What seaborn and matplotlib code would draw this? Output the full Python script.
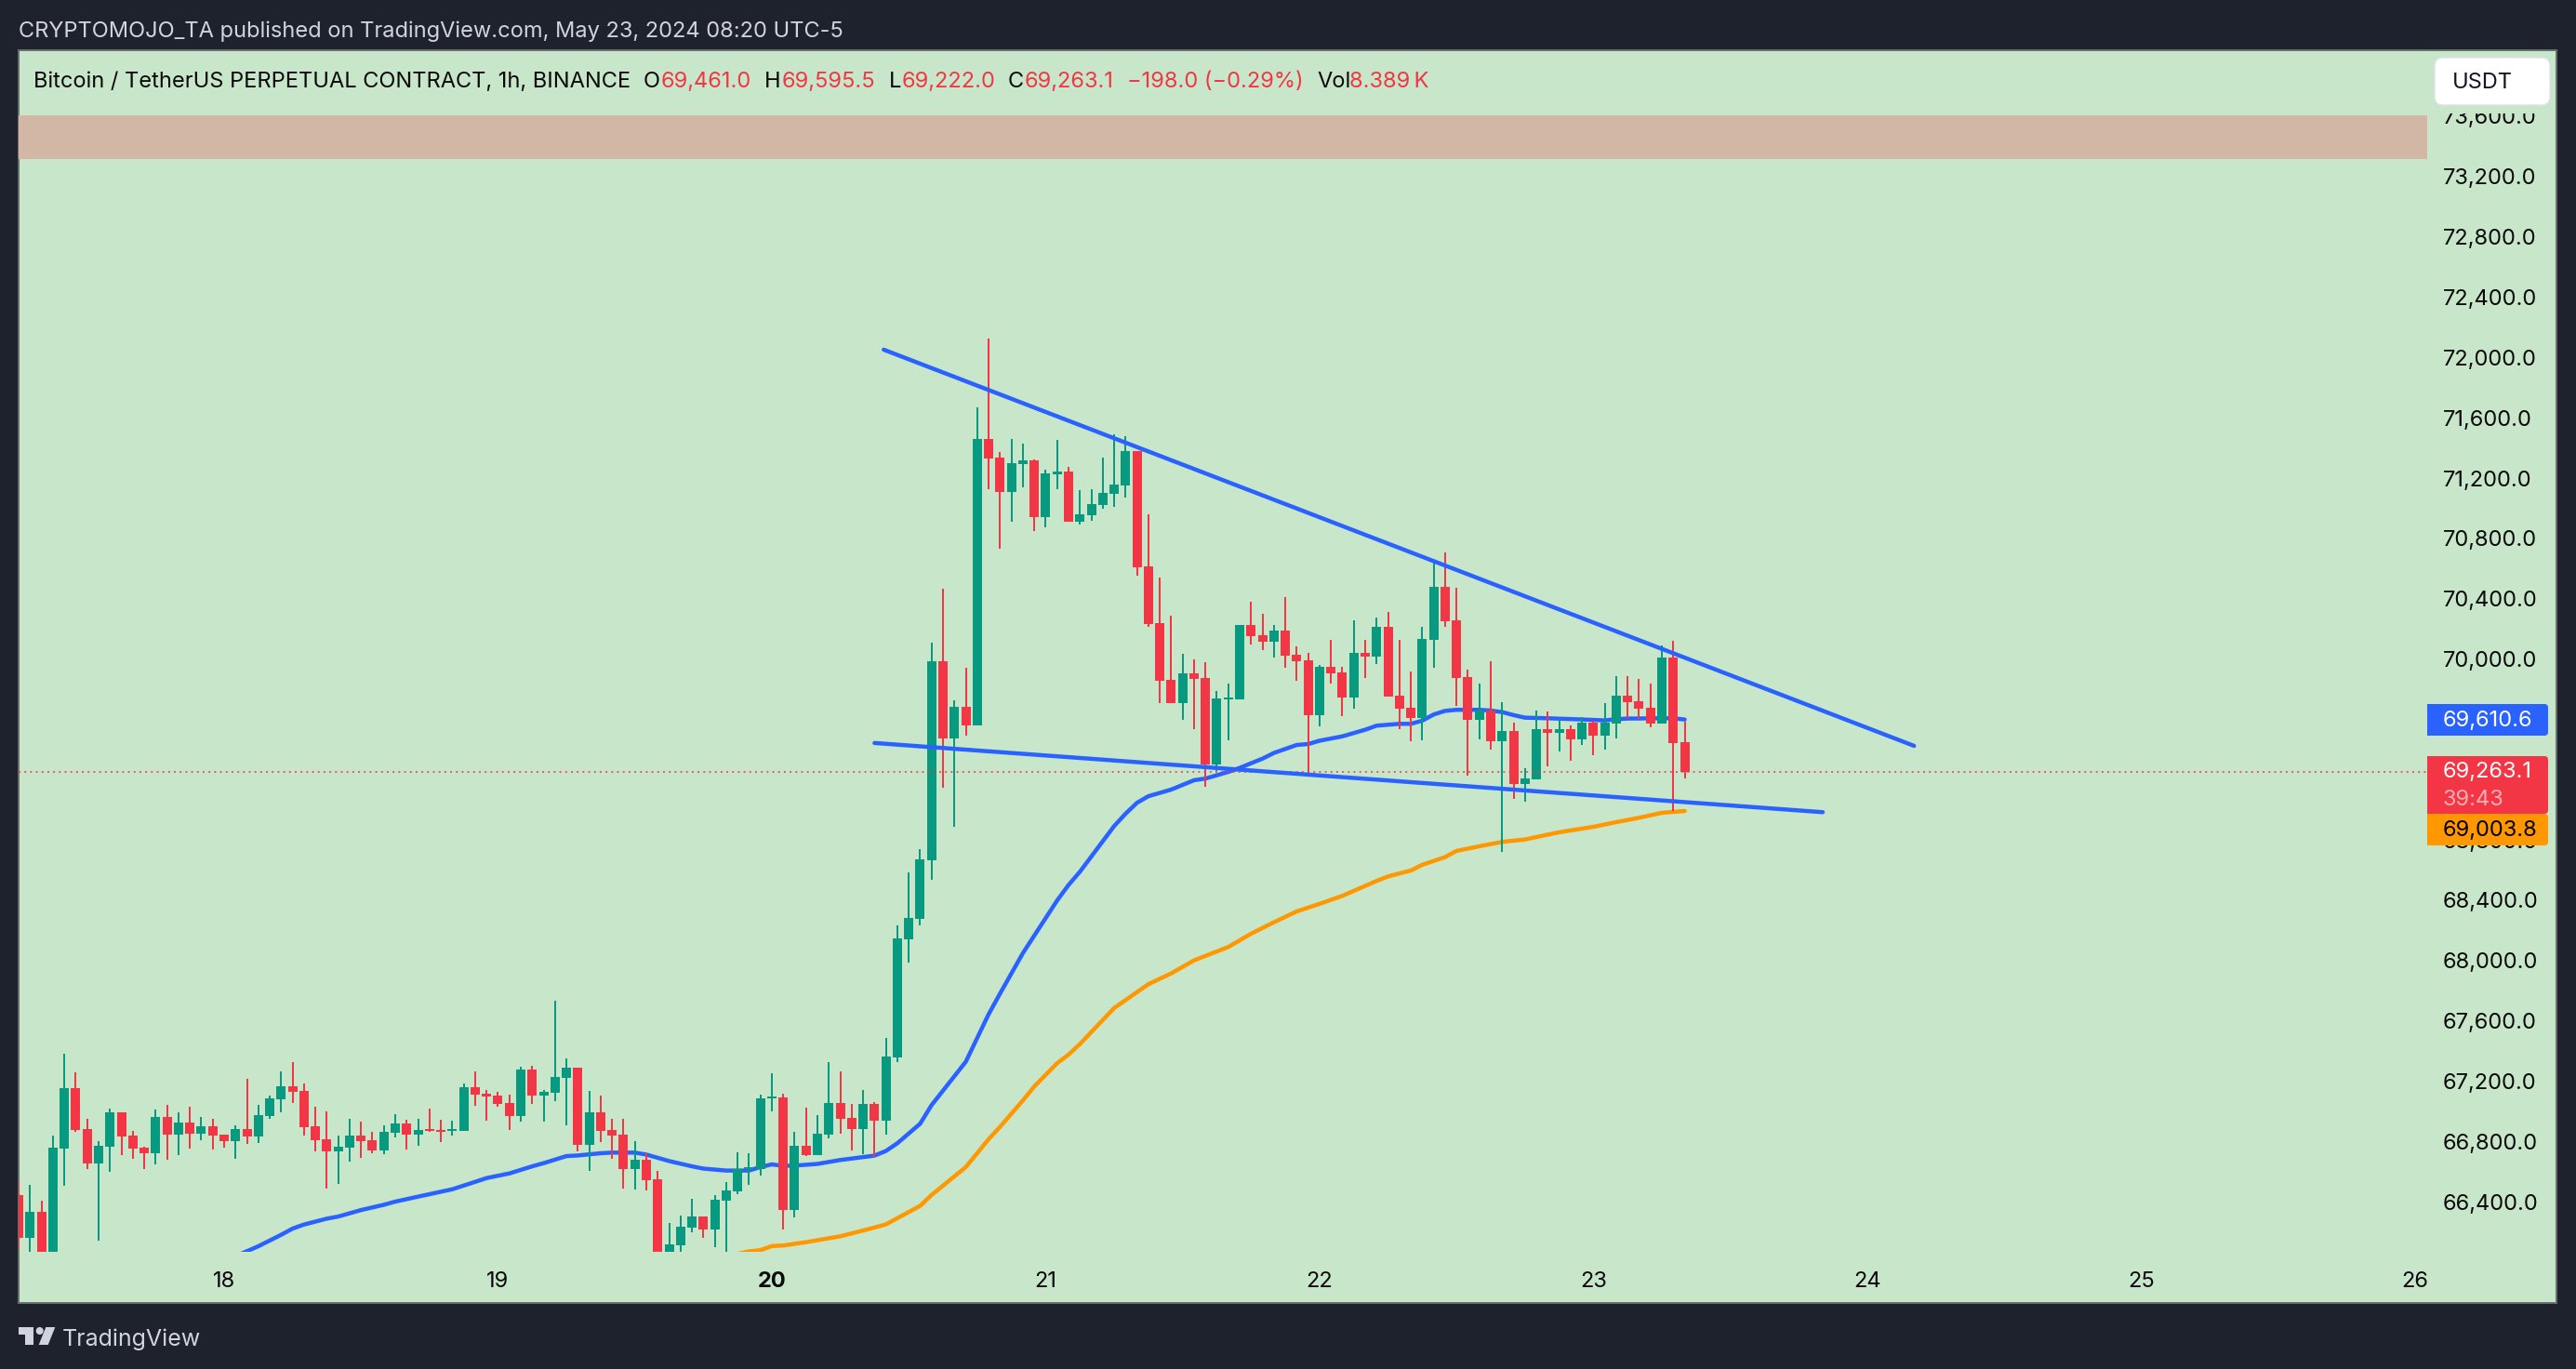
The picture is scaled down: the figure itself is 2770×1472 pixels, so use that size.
# -*- coding: utf-8 -*-
import numpy as np
import matplotlib
matplotlib.use("Agg")
import matplotlib.pyplot as plt
from matplotlib.patches import FancyBboxPatch, Rectangle, Polygon, Circle
from matplotlib.transforms import ScaledTranslation
import seaborn as sns

# candles, one per hour, first one is May 17 06:00
open_px = [66456,66172,66345,66000,66764,67165,66894,66666,66777,67005,66851,66771,66734,66974,66857,66937,66863,66913,
  66857,66814,66894,66845,66980,67091,67178,67147,66913,66826,66746,66771,66851,66820,66752,66869,66931,66857,66894,66888,66882,66882,67172,67128,
  67116,67067,66980,67289,67116,67135,67233,67301,66789,67005,66888,66857,66629,66691,66562,66020,66124,66241,66315,66229,66420,66482,66630,66630,
  67098,67105,66358,66784,66722,66858,67068,66969,66895,67061,66950,67370,68153,68289,68677,69997,69486,69695,69572,71471,71347,71120,71306,71330,
  70953,71237,71255,70922,70966,71035,71107,71162,71391,70627,70250,69873,69719,69918,69887,69312,69744,69744,70237,70171,70127,70202,70041,70003,
  69640,69959,69924,69757,70052,70028,70226,69769,69689,69621,70139,70490,70268,69892,69608,69670,69467,69534,69183,69214,69547,69522,69547,69479,
  69590,69504,69584,69769,69732,69689,69584,70022,69461]
high_px = [66542,66524,66419,66851,67394,67270,66962,66814,67030,67005,66882,66777,67024,67054,67005,67042,66974,66962,
  66857,66919,67227,67054,67116,67276,67338,67196,67042,67011,66851,66962,66943,66876,66919,66993,66956,66962,67030,66956,66950,67196,67276,67153,
  67141,67122,67307,67313,67153,67745,67363,67301,67147,67116,66962,66962,66814,66734,66617,66272,66321,66432,66315,66457,66543,66741,66735,67123,
  67265,67129,66876,67037,66987,67339,67277,67061,67154,67074,67499,68246,68597,68751,70120,70479,69739,69955,71682,72138,71385,71471,71440,71336,
  71268,71466,71286,71131,71138,71347,71502,71491,71391,70973,70552,70299,70048,70010,69990,69801,69849,70237,70391,70312,70237,70422,70096,70052,
  69973,70140,69959,70268,70140,70288,70324,70139,69929,70225,70651,70719,70484,69941,69849,69997,69726,69590,69288,69670,69664,69615,69571,69627,
  69602,69719,69898,69898,69880,69849,70102,70133,69595.5]
low_px = [66096,66060,65950,65950,66518,66876,66629,66154,66610,66721,66697,66629,66660,66691,66721,66764,66820,66758,
  66771,66697,66795,66802,66962,67005,67067,66851,66746,66499,66530,66678,66703,66734,66727,66839,66758,66783,66876,66808,66851,66882,67048,66950,
  67042,66888,66943,67061,66943,67079,66919,66746,66616,66808,66697,66499,66493,66487,65950,65980,66040,66210,66173,66112,66000,66463,66525,66586,
  67012,66229,66309,66716,66722,66833,66864,66753,66728,66710,66858,67339,67999,68246,68548,69160,68902,69503,69572,71138,70744,70922,71151,70861,
  70883,71138,70922,70905,70929,71008,71021,71083,70565,70226,69719,69719,69609,69547,69164,69272,69473,69744,70109,70072,70021,69955,69867,69250,
  69565,69849,69633,69682,69887,69979,69763,69547,69467,69473,69954,70225,69701,69238,69479,69411,68733,69084,69066,69214,69300,69399,69337,69442,
  69374,69411,69485,69621,69612,69559,69584,69004,69222]
close_px = [66172,66345,66000,66771,67165,66888,66666,66783,67005,66845,66764,66734,66974,66857,66937,66863,66913,66851,
  66814,66894,66845,66987,67098,67178,67141,66906,66820,66746,66777,66851,66814,66752,66876,66931,66857,66888,66882,66876,66894,67172,67122,67110,
  67061,66980,67289,67116,67141,67239,67301,66789,67005,66882,66851,66629,66691,66555,66000,66130,66247,66315,66229,66426,66488,66630,66642,67098,
  67111,66358,66784,66722,66864,67068,66963,66895,67061,66950,67376,68159,68295,68684,69997,69486,69695,69572,71471,71343,71120,71312,71332,70953,
  71244,71255,70922,70973,71039,71114,71169,71391,70620,70244,69867,69719,69918,69880,69312,69750,69757,70237,70164,70127,70202,70034,69997,69640,
  69959,69918,69757,70052,70028,70226,69763,69682,69621,70145,70490,70262,69886,69608,69670,69467,69534,69183,69220,69547,69522,69547,69479,69590,
  69504,69590,69769,69726,69682,69584,70022,69454,69263.1]
first_hour = -18  # hours counted from May 18 00:00

# moving averages, read at these hours
blue_hours = [1,3,5,6,7,9,10,12,14,15,17,20,22,23,25,27,28,30,31,33,34,36,37,39,41,42,44,46,47,48,49,50,52,54,57,58,59,61,62,65,67,68,70,73,74,75,78,
  79,80,81,83,85,86,88,89,91,92,94,95,96,98,100,101,103,104,105,106,107,108,110,111,112,113,114,116,119,121,122,123,126,127,128]
blue_ma = [66051,66117,66193,66234,66261,66300,66314,66357,66392,66413,66446,66495,66544,66569,66600,66647,66668,66715,66719,66734,66738,66738,66725,
  66682,66647,66632,66619,66619,66642,66660,66650,66652,66663,66689,66718,66749,66800,66930,67053,67341,67656,67793,68061,68410,68513,68601,68904,
  68986,69058,69102,69146,69208,69219,69263,69290,69351,69389,69442,69448,69470,69499,69543,69570,69582,69582,69603,69644,69668,69675,69675,69670,
  69660,69640,69623,69619,69611,69605,69613,69617,69619,69619,69610.6]
orange_hours = [44,46,47,48,49,51,54,57,58,61,62,65,67,68,70,71,73,74,75,78,81,83,85,88,90,92,94,96,98,101,102,104,105,107,108,110,112,114,117,120,122,124,126,128]
orange_ma = [66050,66083,66091,66118,66122,66144,66183,66241,66262,66385,66457,66642,66827,66909,67084,67177,67331,67388,67458,67697,67855,67927,68013,
  68102,68190,68266,68338,68388,68441,68540,68570,68609,68647,68698,68739,68770,68799,68815,68863,68899,68930,68959,68992,69003.8]

# hand drawn trend lines
upper_hours = [57.8, 148.1]
upper_px = [72064, 69436]
lower_hours = [57.0, 140.1]
lower_px = [69455, 68996]

# resistance zone
zone_px = [73328, 73618]
last_px = 69263.1

price_ticks = list(range(66400, 73601, 400))
day_ticks = [0, 24, 48, 72, 96, 120, 144, 168, 192]
day_labels = ["18", "19", "20", "21", "22", "23", "24", "25", "26"]

W, H = 2770, 1472
DARK = "#1e222d"
PANEL = "#c8e6c9"
RED = "#f23645"
GREEN = "#089981"
BLUE = "#2962ff"
ORANGE = "#ff9800"
FS = 17
LINE = 3.2

sns.set_theme(style="white")
plt.rcParams["font.family"] = ["Inter", "DejaVu Sans"]


def box(x0, y0, x1, y1):
  # pixel box (from top left of the image) to figure fractions
  return [x0 / W, 1 - y1 / H, (x1 - x0) / W, (y1 - y0) / H]


fig = plt.figure(figsize=(W / 100, H / 100), dpi=100, facecolor=DARK)

# panel behind everything
back = fig.add_axes(box(20, 54, 2749, 1401), zorder=0)
back.set_facecolor(PANEL)
back.set_xticks([])
back.set_yticks([])
for s in back.spines.values():
  s.set_color("#666f6c")
  s.set_linewidth(1.4)

ax = fig.add_axes(box(20, 54, 2610, 1346), zorder=1)
ax.patch.set_alpha(0)
for s in ax.spines.values():
  s.set_visible(False)

ax.axhspan(zone_px[0], zone_px[1], color="#d2b7a5", lw=0, zorder=1)

hours = np.arange(len(open_px)) + first_hour
opens = np.array(open_px, dtype=float)
closes = np.array(close_px, dtype=float)
colors = [GREEN if c >= o else RED for o, c in zip(opens, closes)]

sns.lineplot(x=blue_hours, y=blue_ma, color=BLUE, lw=LINE, estimator=None, sort=False, ax=ax, zorder=2, solid_capstyle="round")
sns.lineplot(x=orange_hours, y=orange_ma, color=ORANGE, lw=LINE, estimator=None, sort=False, ax=ax, zorder=2, solid_capstyle="round")

ax.vlines(hours, low_px, high_px, colors=colors, lw=1.44, zorder=3)
ax.bar(hours, np.abs(closes - opens), bottom=np.minimum(opens, closes), width=0.815, color=colors, lw=0, zorder=4)

ax.plot([-18.01, 193.07], [last_px, last_px], color=RED, lw=1.1, dashes=(1.3, 2.75), dash_capstyle="butt", zorder=5)

sns.lineplot(x=upper_hours, y=upper_px, color=BLUE, lw=LINE, estimator=None, sort=False, ax=ax, zorder=6, solid_capstyle="round")
sns.lineplot(x=lower_hours, y=lower_px, color=BLUE, lw=LINE, estimator=None, sort=False, ax=ax, zorder=6, solid_capstyle="round")

ax.set_xlim(-18.01, 193.07)
ax.set_ylim(66080, 74050)
ax.set_xlabel("")
ax.set_ylabel("")
ax.yaxis.tick_right()
ax.set_yticks(price_ticks)
ax.set_yticklabels([f"{p:,.1f}" for p in price_ticks], fontsize=FS, color="#0a0a0a")
ax.set_xticks(day_ticks)
ax.set_xticklabels(day_labels, fontsize=FS, color="#0a0a0a")
ax.get_xticklabels()[2].set_fontweight("bold")
ax.tick_params(axis="y", length=0, pad=12.2)
ax.tick_params(axis="x", length=0, pad=15)
# price labels sit a little above their level
nudge = ScaledTranslation(0, 2 / 100, fig.dpi_scale_trans)
for t in ax.yaxis.get_major_ticks():
  t.label2.set_transform(t.label2.get_transform() + nudge)

# chrome drawn in image pixels on top of the chart
top = fig.add_axes([0, 0, 1, 1], zorder=2)
top.set_xlim(0, W)
top.set_ylim(H, 0)
top.axis("off")
top.patch.set_alpha(0)


def tag(y0, y1, color):
  top.add_patch(FancyBboxPatch((2612, y0), 130 - 2, y1 - y0, boxstyle="round,pad=0,rounding_size=4", fc=color, ec=color, lw=0))
  top.add_patch(Rectangle((2610, y0), 20, y1 - y0, fc=color, ec=color, lw=0))


def label(x, y, s, color="#0a0a0a", size=FS, alpha=1.0):
  top.text(x, y, s, color=color, fontsize=size, alpha=alpha, va="center", ha="left")


tag(757, 791, BLUE)
tag(813, 875, RED)
tag(875, 909, ORANGE)
label(2627, 775, "69,610.6", "white")
label(2627, 830, "69,263.1", "white")
label(2627, 860, "39:43", "white", alpha=0.6)
label(2627, 893, "69,003.8", "black")

# the currency button hides the top of the highest price label
top.add_patch(Rectangle((2612, 58), 134, 64, fc=PANEL, lw=0))
top.add_patch(FancyBboxPatch((2618, 62), 124, 51, boxstyle="round,pad=0,rounding_size=9", fc="white", ec="#e0e3eb", lw=1))
label(2637, 89, "USDT", "#131722")

label(20, 34, "CRYPTOMOJO_TA published on TradingView.com, May 23, 2024 08:20 UTC-5", "#d1d4dc")

# legend line, label and value pairs
LEG = 88
label(36, LEG, "Bitcoin / TetherUS PERPETUAL CONTRACT, 1h, BINANCE")
label(692, LEG, "O")
label(711, LEG, "69,461.0", RED)
label(822, LEG, "H")
label(841, LEG, "69,595.5", RED)
label(956, LEG, "L")
label(970, LEG, "69,222.0", RED)
label(1084, LEG, "C")
label(1102, LEG, "69,263.1", RED)
label(1212, LEG, "\u2212198.0 (\u22120.29%)", RED)
label(1416, LEG, "Vol")
label(1451, LEG, "8.389\u2009K", RED)

# logo
LOGO = "#d1d4dc"
top.add_patch(Polygon([(20, 1427), (36, 1427), (36, 1446), (27, 1446), (27, 1435), (20, 1435)], fc=LOGO, lw=0))
top.add_patch(Circle((42.7, 1431), 4, fc=LOGO, lw=0))
top.add_patch(Polygon([(49.3, 1427), (59.3, 1427), (51.7, 1446), (41.7, 1446)], fc=LOGO, lw=0))
label(67, 1440, "TradingView", LOGO, size=18)

fig.savefig("out.png", dpi=100, facecolor=DARK)
